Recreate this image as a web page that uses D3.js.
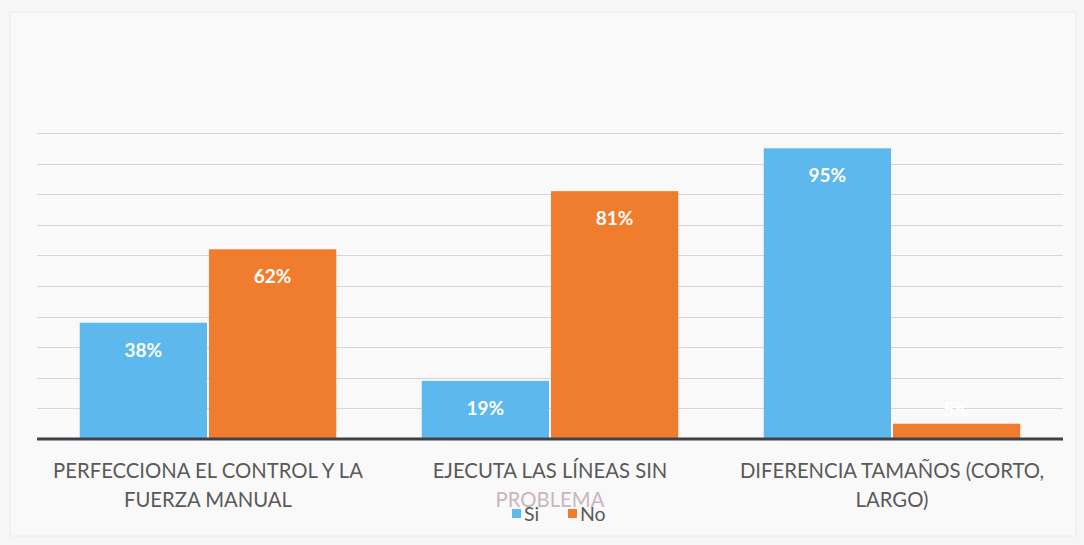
<!DOCTYPE html>
<html><head><meta charset="utf-8">
<script src="https://cdn.jsdelivr.net/npm/d3@7"></script>
<style>html,body{margin:0;padding:0;background:#f6f6f6;}svg{display:block;}</style>
</head><body>
<svg id="c" width="1084" height="545"></svg>
<script>
const categories = ["PERFECCIONA EL CONTROL Y LA FUERZA MANUAL", "EJECUTA LAS LÍNEAS SIN PROBLEMA", "DIFERENCIA TAMAÑOS (CORTO, LARGO)"];
const categoryLines = [["PERFECCIONA EL CONTROL Y LA", "FUERZA MANUAL"], ["EJECUTA LAS LÍNEAS SIN", "PROBLEMA"], ["DIFERENCIA TAMAÑOS (CORTO,", "LARGO)"]];
const seriesNames = ["Si", "No"];
const siValues = [38, 19, 95];
const noValues = [62, 81, 5];
const yTicks = [0, 10, 20, 30, 40, 50, 60, 70, 80, 90, 100];
const colors = ["#5db8ee", "#f07d2d"];

const svg = d3.select("#c");
const font = "Lato, 'Open Sans', sans-serif";

svg.append("rect").attr("x",0).attr("y",0).attr("width",1084).attr("height",545).attr("fill","#f6f6f6");
svg.append("rect").attr("x",10).attr("y",12).attr("width",1066).attr("height",524).attr("fill","#f9f9f9").attr("stroke","#ececec");

const x0 = d3.scaleBand().domain(categories).range([37, 1063]).paddingInner(0.25).paddingOuter(0.125);
const x1 = d3.scaleBand().domain(seriesNames).range([0, x0.bandwidth()]).paddingInner(0.015);
const y = d3.scaleLinear().domain([0, 100]).range([439, 133]);

// gridlines
svg.append("g").selectAll("line").data(yTicks.slice(1)).join("line")
  .attr("x1", 37).attr("x2", 1063)
  .attr("y1", d => Math.round(y(d)) + 0.5).attr("y2", d => Math.round(y(d)) + 0.5)
  .attr("stroke", "#dcd3d5").attr("stroke-width", 1);

const rows = categories.map((c, i) => ({cat: c, vals: [siValues[i], noValues[i]]}));

const g = svg.append("g").selectAll("g").data(rows).join("g")
  .attr("transform", d => `translate(${x0(d.cat)},0)`);

g.selectAll("rect").data(d => d.vals.map((v, j) => ({s: seriesNames[j], v, j}))).join("rect")
  .attr("x", d => x1(d.s)).attr("width", x1.bandwidth())
  .attr("y", d => y(d.v)).attr("height", d => y(0) - y(d.v))
  .attr("fill", d => colors[d.j]);

g.selectAll("text.lbl").data(d => d.vals.map((v, j) => ({s: seriesNames[j], v, j}))).join("text")
  .attr("class", "lbl")
  .attr("x", d => x1(d.s) + x1.bandwidth() / 2)
  .attr("y", d => (y(0) - y(d.v) > 40 ? y(d.v) + 34 : y(d.v) - 8))
  .attr("text-anchor", "middle")
  .attr("font-family", font).attr("font-weight", "bold").attr("font-size", 19)
  .attr("fill", "#ffffff")
  .text(d => d.v + "%");

// baseline
svg.append("line").attr("x1", 37).attr("x2", 1063).attr("y1", y(0)).attr("y2", y(0))
  .attr("stroke", "#404048").attr("stroke-width", 3);

// category labels
categoryLines.forEach((lines, i) => {
  const cx = x0(categories[i]) + x0.bandwidth() / 2;
  lines.forEach((t, k) => {
    const faded = (i === 1 && k === 1);
    svg.append("text")
      .attr("x", cx).attr("y", 478 + k * 29)
      .attr("text-anchor", "middle")
      .attr("font-family", font).attr("font-size", 20.3)
      .attr("fill", faded ? "#c9b6be" : "#595959")
      .text(t);
  });
});

// legend
const legend = svg.append("g");
const legendItems = [{name: seriesNames[0], x: 512}, {name: seriesNames[1], x: 568}];
legendItems.forEach((it, j) => {
  legend.append("rect").attr("x", it.x).attr("y", 509).attr("width", 9).attr("height", 9).attr("fill", colors[j]);
  legend.append("text").attr("x", it.x + 12).attr("y", 521)
    .attr("font-family", font).attr("font-size", 19.5).attr("fill", "#595959").text(it.name);
});
</script>
</body></html>
